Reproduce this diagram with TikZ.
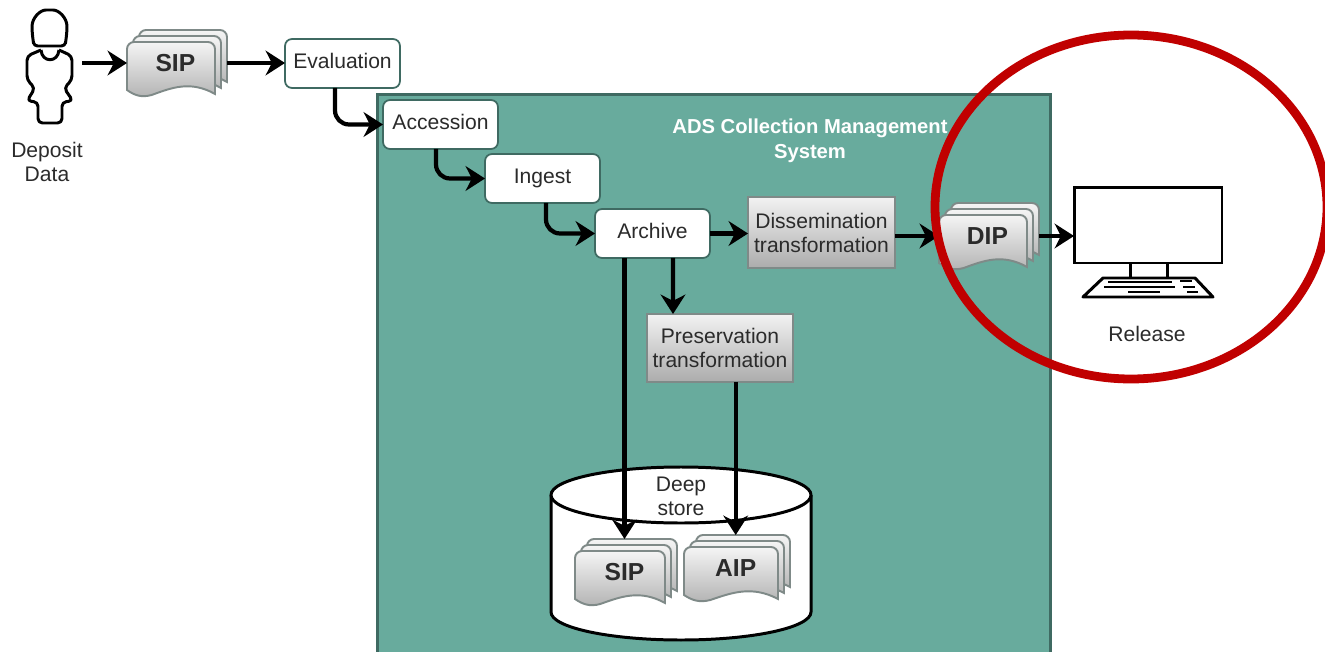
\documentclass[tikz,border=0pt]{standalone}
\usepackage{fontspec}
\setmainfont{Liberation Sans}
\usetikzlibrary{arrows.meta}
\definecolor{panelgreen}{HTML}{68AB9D}
\definecolor{paneledge}{HTML}{3F6A62}
\definecolor{sheetedge}{HTML}{7F8A88}
\definecolor{circlered}{HTML}{C00000}
\definecolor{labelgrey}{HTML}{2B2B2B}
\tikzset{
	flow/.style={line width=2.4pt,-{Stealth[length=11pt,width=14pt,inset=3.5pt]}},
	stepnode/.style={draw=paneledge,line width=1pt,rounded corners=4pt,fill=white,text=labelgrey,minimum width=2.3cm,minimum height=0.98cm,text height=8.6pt,text depth=2.6pt,inner sep=0pt,outer sep=0pt},
	transnode/.style={draw=sheetedge,line width=1pt,top color=gray!10,bottom color=gray!65,text=labelgrey,align=center,inner sep=0pt,outer sep=0pt},
	sheet/.style={draw=sheetedge,line width=1.1pt,top color=gray!8,bottom color=gray!60},
	plainline/.style={draw=black,line width=1.7pt,line join=round},
	caption/.style={text=labelgrey,align=center,inner sep=0pt},
	pics/docstack/.style 2 args={code={
		\foreach \off in {12,6,0}
			\path[sheet,shift={(\off,-\off)}] (0,48) [rounded corners=4pt] -- (0,0) -- (#1,0) [sharp corners] -- (#1,52) .. controls ({0.72*#1},38) and ({0.5*#1},46) .. ({0.28*#1},53) .. controls ({0.16*#1},56) and ({0.08*#1},53) .. (0,48) -- cycle;
		\node[font=\fontsize{14}{16}\selectfont\bfseries,text=labelgrey,inner sep=0pt] (-label) at ({0.55*#1},21) {#2};
		\coordinate (-west) at (0,21);
		\coordinate (-east) at ({#1+12},21);
		\coordinate (-north) at ({0.55*#1},-12);
	}}
}
\begin{document}
\begin{tikzpicture}[x=0.02cm,y=-0.02cm,font=\fontsize{12}{13.7}\selectfont]
	\useasboundingbox (0,0) rectangle (1325,652);
	% green system panel
	\node[draw=paneledge,fill=panelgreen,line width=1.7pt,minimum width=13.48cm,minimum height=11.24cm,inner sep=0pt] (adspanel) at (714,375) {};
	\node[text=white,align=center,font=\fontsize{11.5}{14.2}\selectfont\bfseries,inner sep=0pt] (adstitle) at (810,141) {ADS Collection Management\\System};
	% depositor
	\draw[plainline,rounded corners=2pt] (34,46) -- (33,40) -- (32,30) .. controls (32,18) and (40,10) .. (49.5,10) .. controls (59,10) and (67,18) .. (67,30) -- (66,40) -- (65,46) -- cycle;
	\draw[plainline,rounded corners=2.5pt] (41,50) -- (27,56) -- (27,80) -- (35,88) -- (27,101) -- (38,102) -- (38,123) -- (62,123) -- (62,102) -- (73,101) -- (64,88) -- (72,80) -- (72,56) -- (59,50);
	\draw[plainline] (41,50) .. controls (42,63) and (58,63) .. (59,50);
	\coordinate (depositor) at (82,63);
	\node[caption] (depositlabel) at (47,162) {Deposit\\Data};
	% nodes
	\pic (sipin) at (127,42) {docstack={88}{SIP}};
	\node[stepnode] (evaluation) at (342.5,63.5) {Evaluation};
	\node[stepnode] (accession) at (440.5,124.5) {Accession};
	\node[stepnode] (ingest) at (542.5,178.5) {Ingest};
	\node[stepnode] (archive) at (652.5,233.5) {Archive};
	\node[transnode,minimum width=2.94cm,minimum height=1.42cm] (dissemination) at (821.5,232.5) {Dissemination\\transformation};
	\node[transnode,minimum width=2.92cm,minimum height=1.36cm] (preservation) at (720,348) {Preservation\\transformation};
	\pic (dipout) at (939,215) {docstack={88}{DIP}};
	% deep store
	\draw[plainline,fill=white] (551,495) -- (551,612) arc[start angle=180,end angle=0,x radius=130,y radius=28] -- (811,495);
	\draw[plainline,fill=white] (681,495) ellipse [x radius=130,y radius=28];
	\node[caption] (storelabel) at (681,496) {Deep\\store};
	\pic (sipstore) at (575,551) {docstack={90}{SIP}};
	\pic (aipstore) at (684,547) {docstack={94}{AIP}};
	% release screen
	\node[draw=black,fill=white,line width=1.7pt,minimum width=2.96cm,minimum height=1.52cm,inner sep=0pt,outer sep=0pt] (monitor) at (1148,225) {};
	\draw[plainline] (1130,263) -- (1130,279) (1167,263) -- (1167,279);
	\draw[plainline,fill=white] (1103,278) -- (1195,278) -- (1213,297) -- (1083,297) -- cycle;
	\draw[plainline] (1130,278) -- (1167,278);
	\draw[line width=1.6pt] (1108,282) -- (1172,282) (1180,281) -- (1192,281);
	\draw[line width=1.6pt] (1104,287) -- (1175,287) (1183,287) -- (1195,287);
	\draw[line width=1.6pt] (1128,292) -- (1160,292) (1187,292) -- (1198,292);
	\node[caption] (releaselabel) at (1147,334) {Release};
	% connectors
	\draw[flow] (depositor) -- (sipin-west);
	\draw[flow] (sipin-east) -- (evaluation.west |- sipin-east);
	\draw[flow,rounded corners=8pt] ([xshift=-0.15cm]evaluation.south) |- (accession.west);
	\draw[flow,rounded corners=8pt] ([xshift=-0.09cm]accession.south) |- (ingest.west);
	\draw[flow,rounded corners=8pt] ([xshift=0.07cm]ingest.south) |- (archive.west);
	\draw[flow] (archive.east) -- (dissemination.west |- archive.east);
	\draw[flow] (dissemination.east |- dipout-west) -- (dipout-west);
	\draw[flow] (dipout-east) -- (monitor.west |- dipout-east);
	\draw[flow] ([xshift=0.41cm]archive.south) -- ([xshift=-0.94cm]preservation.north);
	\draw[flow] (archive.south -| sipstore-north) -- (sipstore-north);
	\draw[flow] (preservation.south -| aipstore-north) -- (aipstore-north);
	% highlight
	\draw[circlered,line width=5pt] (1131,207) ellipse [x radius=196,y radius=172];
\end{tikzpicture}
\end{document}
